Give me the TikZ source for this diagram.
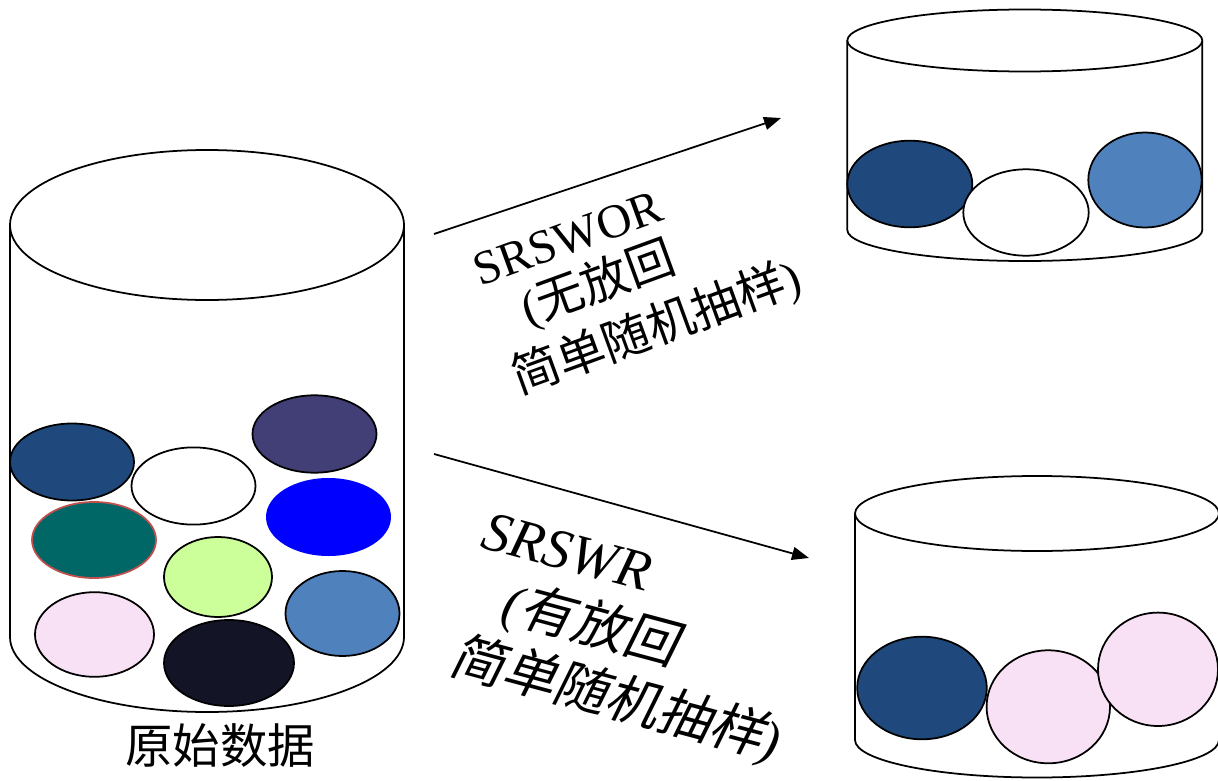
\documentclass[tikz,border=0pt]{standalone}
\usepackage{fontspec}
\setmainfont{Liberation Serif}
\newfontfamily\cjk{Noto Sans CJK SC}
\newfontfamily\cjkit[FakeSlant=0.2]{Noto Sans CJK SC}
\usetikzlibrary{arrows.meta}
\definecolor{dkblue}{HTML}{1F497D}
\definecolor{purp}{HTML}{413F76}
\definecolor{tealc}{HTML}{006666}
\definecolor{redline}{HTML}{C0504D}
\definecolor{pureblue}{HTML}{0000FF}
\definecolor{lgreen}{HTML}{CCFF99}
\definecolor{steel}{HTML}{4F81BD}
\definecolor{pinkc}{HTML}{F8E1F4}
\definecolor{navy}{HTML}{131426}
\newcommand\drawcyl[5]{% cx, top y, bottom y, rx, ry
  \fill[white] (#1-#4,-#2) -- (#1-#4,-#3) arc[start angle=180,end angle=360,x radius=#4,y radius=#5] -- (#1+#4,-#2) -- cycle;
  \draw[cylline] (#1-#4,-#2) -- (#1-#4,-#3) arc[start angle=180,end angle=360,x radius=#4,y radius=#5] -- (#1+#4,-#2);
  \draw[cylline,fill=white] (#1,-#2) ellipse[x radius=#4,y radius=#5];
}
\newcommand\ball[5]{% color, cx, cy, rx, ry
  \filldraw[ballline,fill=#1] (#2,-#3) ellipse[x radius=#4,y radius=#5];
}
\tikzset{
  cylline/.style={line width=1pt,black},
  ballline/.style={line width=1pt,black},
  arr/.style={line width=1pt,-{Triangle[length=0.34cm,width=0.26cm]}},
  lbl/.style={inner sep=0pt,anchor=base west},
  fa/.style={font=\fontsize{27.3pt}{32pt}\selectfont},
  fb/.style={font=\fontsize{30.5pt}{37pt}\selectfont\itshape},
}
\begin{document}
\begin{tikzpicture}[x=0.02cm,y=0.02cm]
\useasboundingbox (0,0) rectangle (1218,-781);
% left cylinder
\drawcyl{207}{225}{637}{197}{75}
\ball{dkblue}{72}{462}{62}{38.5}
\ball{white}{193.5}{486}{62}{38.6}
\ball{purp}{314.5}{434}{62}{38.7}
\filldraw[line width=1pt,draw=redline,fill=tealc] (94,-540) ellipse[x radius=62,y radius=38];
\fill[pureblue] (328.5,-517) ellipse[x radius=62.5,y radius=39];
\ball{lgreen}{218}{577}{54}{40}
\ball{steel}{342.5}{613.5}{57}{42.5}
\ball{pinkc}{94.5}{634.5}{59.5}{42.3}
\ball{navy}{229}{663}{65}{43}
\node[inner sep=0pt] (src) at (220,-746) {\fontsize{27pt}{32pt}\selectfont\cjk 原始数据};
% top right cylinder
\drawcyl{1024.8}{40.5}{230}{177.5}{31}
\ball{dkblue}{909.8}{184}{62.5}{43.3}
\ball{white}{1026}{212.5}{62.7}{43.2}
\ball{steel}{1145}{180}{56.7}{47.5}
% bottom right cylinder
\drawcyl{1037}{513.5}{740}{182}{37.5}
\ball{dkblue}{922}{688}{64.8}{51.3}
\ball{pinkc}{1048.3}{706.8}{61.7}{56.5}
\ball{pinkc}{1158}{669.3}{60}{56.7}
% arrows
\coordinate (a1s) at (434,-234);
\coordinate (a1e) at (781,-118);
\coordinate (a2s) at (434,-454);
\coordinate (a2e) at (809,-558);
\draw[arr] (a1s) -- (a1e);
\draw[arr] (a2s) -- (a2e);
% label 1
\node[lbl,rotate=20,fa] (l1a) at (480,-287) {SRSWOR};
\node[lbl,rotate=20,fa] (l1b) at (528,-326) {({\cjk 无放回}};
\node[lbl,rotate=20,fa] (l1c) at (519,-395) {{\cjk 简单随机抽样})};
% label 2
\node[lbl,rotate=-15,font=\fontsize{32pt}{37pt}\selectfont\itshape] (l2a) at (479,-547) {SRSWR};
\node[lbl,rotate=-15,fb] (l2b) at (499,-619) {({\cjkit 有放回}};
\node[lbl,rotate=-15,fb] (l2c) at (447,-672) {{\cjkit 简单随机抽样})};
\end{tikzpicture}
\end{document}
